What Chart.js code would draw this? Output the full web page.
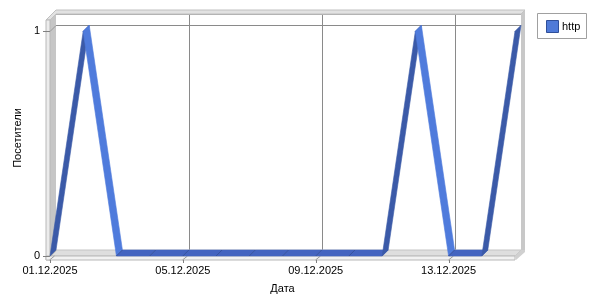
<!DOCTYPE html>
<html>
<head>
<meta charset="utf-8">
<script src="https://cdn.jsdelivr.net/npm/chart.js@4/dist/chart.umd.min.js"></script>
<style>
  body { margin: 0; background: #fff; }
</style>
</head>
<body>
<canvas id="chart" width="600" height="300"></canvas>
<script>
const dates = [
  "01.12.2025", "02.12.2025", "03.12.2025", "04.12.2025", "05.12.2025",
  "06.12.2025", "07.12.2025", "08.12.2025", "09.12.2025", "10.12.2025",
  "11.12.2025", "12.12.2025", "13.12.2025", "14.12.2025", "15.12.2025",
];
const visitors = [0, 1, 0, 0, 0, 0, 0, 0, 0, 0, 0, 1, 0, 0, 1];
const xTickLabels = ["01.12.2025", "05.12.2025", "09.12.2025", "13.12.2025"];
const yTicks = [0, 1];

// pseudo-3d look: depth offset of the series/back wall, wall thickness
const DEPTH = 6;
const WALL = 4;
const FONT = { family: "'Liberation Sans', Arial, sans-serif", size: 11 };

function poly(ctx, pts, fill, stroke) {
  ctx.beginPath();
  ctx.moveTo(pts[0][0], pts[0][1]);
  for (let i = 1; i < pts.length; i++) ctx.lineTo(pts[i][0], pts[i][1]);
  ctx.closePath();
  if (fill) { ctx.fillStyle = fill; ctx.fill(); }
  if (stroke) { ctx.strokeStyle = stroke; ctx.lineWidth = 1; ctx.stroke(); }
}

function line(ctx, x1, y1, x2, y2, color) {
  ctx.beginPath();
  ctx.moveTo(x1, y1);
  ctx.lineTo(x2, y2);
  ctx.strokeStyle = color;
  ctx.lineWidth = 1;
  ctx.stroke();
}

const frame3d = {
  id: "frame3d",
  beforeDatasetsDraw(chart) {
    const { ctx, chartArea, scales } = chart;
    const { left, right, top, bottom } = chartArea;
    const d = DEPTH;
    ctx.save();

    // back wall
    poly(ctx, [[left + d, top - d], [right + d, top - d], [right + d, bottom - d], [left + d, bottom - d]], "#fff", null);

    // grid on the back wall
    scales.x.ticks.forEach((t, i) => {
      if (!t.label || i === 0) return;
      const px = Math.round(scales.x.getPixelForTick(i)) + d + 0.5;
      line(ctx, px, top - d, px, bottom - d, "#8a8a8a");
    });
    yTicks.forEach((v) => {
      if (v === 0) return;
      const py = Math.round(scales.y.getPixelForValue(v)) - d + 0.5;
      line(ctx, left + d, py, right + d, py, "#8a8a8a");
    });
    line(ctx, left + d, top - d + 0.5, right + d, top - d + 0.5, "#a8a8a8");

    // top cap
    poly(ctx, [[left - WALL, top], [left + d - WALL + WALL, top - d - WALL], [right + d + WALL, top - d - WALL],
      [right + d, top - d], [left + d, top - d], [left, top]], "#e2e2e2", "#c0c0c0");

    // left wall
    poly(ctx, [[left, top], [left + d, top - d], [left + d, bottom - d], [left, bottom]], "#c6c6c6", null);
    poly(ctx, [[left - WALL, top], [left, top], [left, bottom + WALL], [left - WALL, bottom + WALL]], "#ececec", "#b8b8b8");

    // right slab
    poly(ctx, [[right + d, top - d], [right + d + WALL, top - d - WALL], [right + d + WALL, bottom - d],
      [right + d, bottom - d]], "#c8c8c8", null);

    // floor
    poly(ctx, [[left, bottom], [left + d, bottom - d], [right + d, bottom - d], [right, bottom]], "#dedede", "#c4c4c4");
    poly(ctx, [[left - WALL, bottom], [right, bottom], [right, bottom + WALL], [left - WALL, bottom + WALL]], "#f2f2f2", "#b8b8b8");
    poly(ctx, [[right, bottom], [right + d, bottom - d], [right + d + WALL, bottom - d], [right + d + WALL, bottom - d + 2],
      [right + 1, bottom + WALL]], "#d0d0d0", null);

    // tick marks
    scales.x.ticks.forEach((t, i) => {
      if (!t.label) return;
      const px = Math.round(scales.x.getPixelForTick(i)) + 0.5;
      line(ctx, px, bottom + WALL + 3, px, bottom + WALL, "#808080");
      line(ctx, px - 1, bottom + WALL, px + 4, bottom, "#9a9a9a");
    });
    yTicks.forEach((v) => {
      const py = Math.round(scales.y.getPixelForValue(v)) + 0.5;
      line(ctx, left - WALL - 3, py, left, py, "#808080");
      line(ctx, left, py, left + d, py - d, "#9a9a9a");
    });
    ctx.restore();
  },
  afterDatasetsDraw(chart) {
    const { ctx } = chart;
    const d = DEPTH;
    const pts = chart.getDatasetMeta(0).data;
    ctx.save();
    for (let i = 0; i < pts.length - 1; i++) {
      const p = pts[i], q = pts[i + 1];
      let color = "#4464c0";
      if (q.y < p.y - 0.5) color = "#3b5aa8";
      else if (q.y > p.y + 0.5) color = "#4f7bdc";
      const quad = [[p.x, p.y], [q.x, q.y], [q.x + d, q.y - d], [p.x + d, p.y - d]];
      poly(ctx, quad, color, null);
      ctx.lineWidth = 0.6;
      ctx.strokeStyle = color;
      ctx.stroke();
      if (color === "#4464c0" && i > 0) line(ctx, p.x, p.y, p.x + d, p.y - d, "#36529e");
    }

    // legend
    const ds = chart.data.datasets[0];
    poly(ctx, [[537.5, 13.5], [586.5, 13.5], [586.5, 38.5], [537.5, 38.5]], "#fff", "#a0a0a0");
    poly(ctx, [[546.5, 20.5], [558.5, 20.5], [558.5, 32.5], [546.5, 32.5]], ds.backgroundColor, "#2f4f9a");
    ctx.fillStyle = "#000";
    ctx.font = `${FONT.size}px ${FONT.family}`;
    ctx.textBaseline = "middle";
    ctx.fillText(ds.label, 562, 27);
    ctx.restore();
  },
};

new Chart(document.getElementById("chart"), {
  type: "line",
  data: {
    labels: dates,
    datasets: [
      {
        label: "http",
        data: visitors,
        borderColor: "#4f7ad8",
        backgroundColor: "#4f7ad8",
        pointRadius: 0,
        showLine: false,
      },
    ],
  },
  options: {
    responsive: false,
    animation: false,
    layout: { padding: { top: 20, right: 85, left: 0, bottom: 0 } },
    plugins: { legend: { display: false }, tooltip: { enabled: false } },
    scales: {
      x: {
        type: "category",
        offset: false,
        grid: { display: false, drawTicks: false },
        border: { display: false },
        ticks: {
          autoSkip: false,
          maxRotation: 0,
          minRotation: 0,
          padding: 8,
          color: "#000",
          font: FONT,
          callback(value) {
            const label = this.getLabelForValue(value);
            return xTickLabels.includes(label) ? label : "";
          },
        },
        title: { display: true, text: "Дата", color: "#000", font: FONT, padding: { top: 0, bottom: 4 } },
        afterFit(scale) { scale.height = 44; },
      },
      y: {
        min: 0,
        max: 1.05,
        grid: { display: false, drawTicks: false },
        border: { display: false },
        afterBuildTicks(scale) { scale.ticks = yTicks.map((v) => ({ value: v })); },
        ticks: { padding: 10, color: "#000", font: FONT },
        title: { display: true, text: "Посетители", color: "#000", font: FONT, padding: { top: 11, bottom: 0 } },
        afterFit(scale) { scale.width = 50; },
      },
    },
  },
  plugins: [frame3d],
});
</script>
</body>
</html>
